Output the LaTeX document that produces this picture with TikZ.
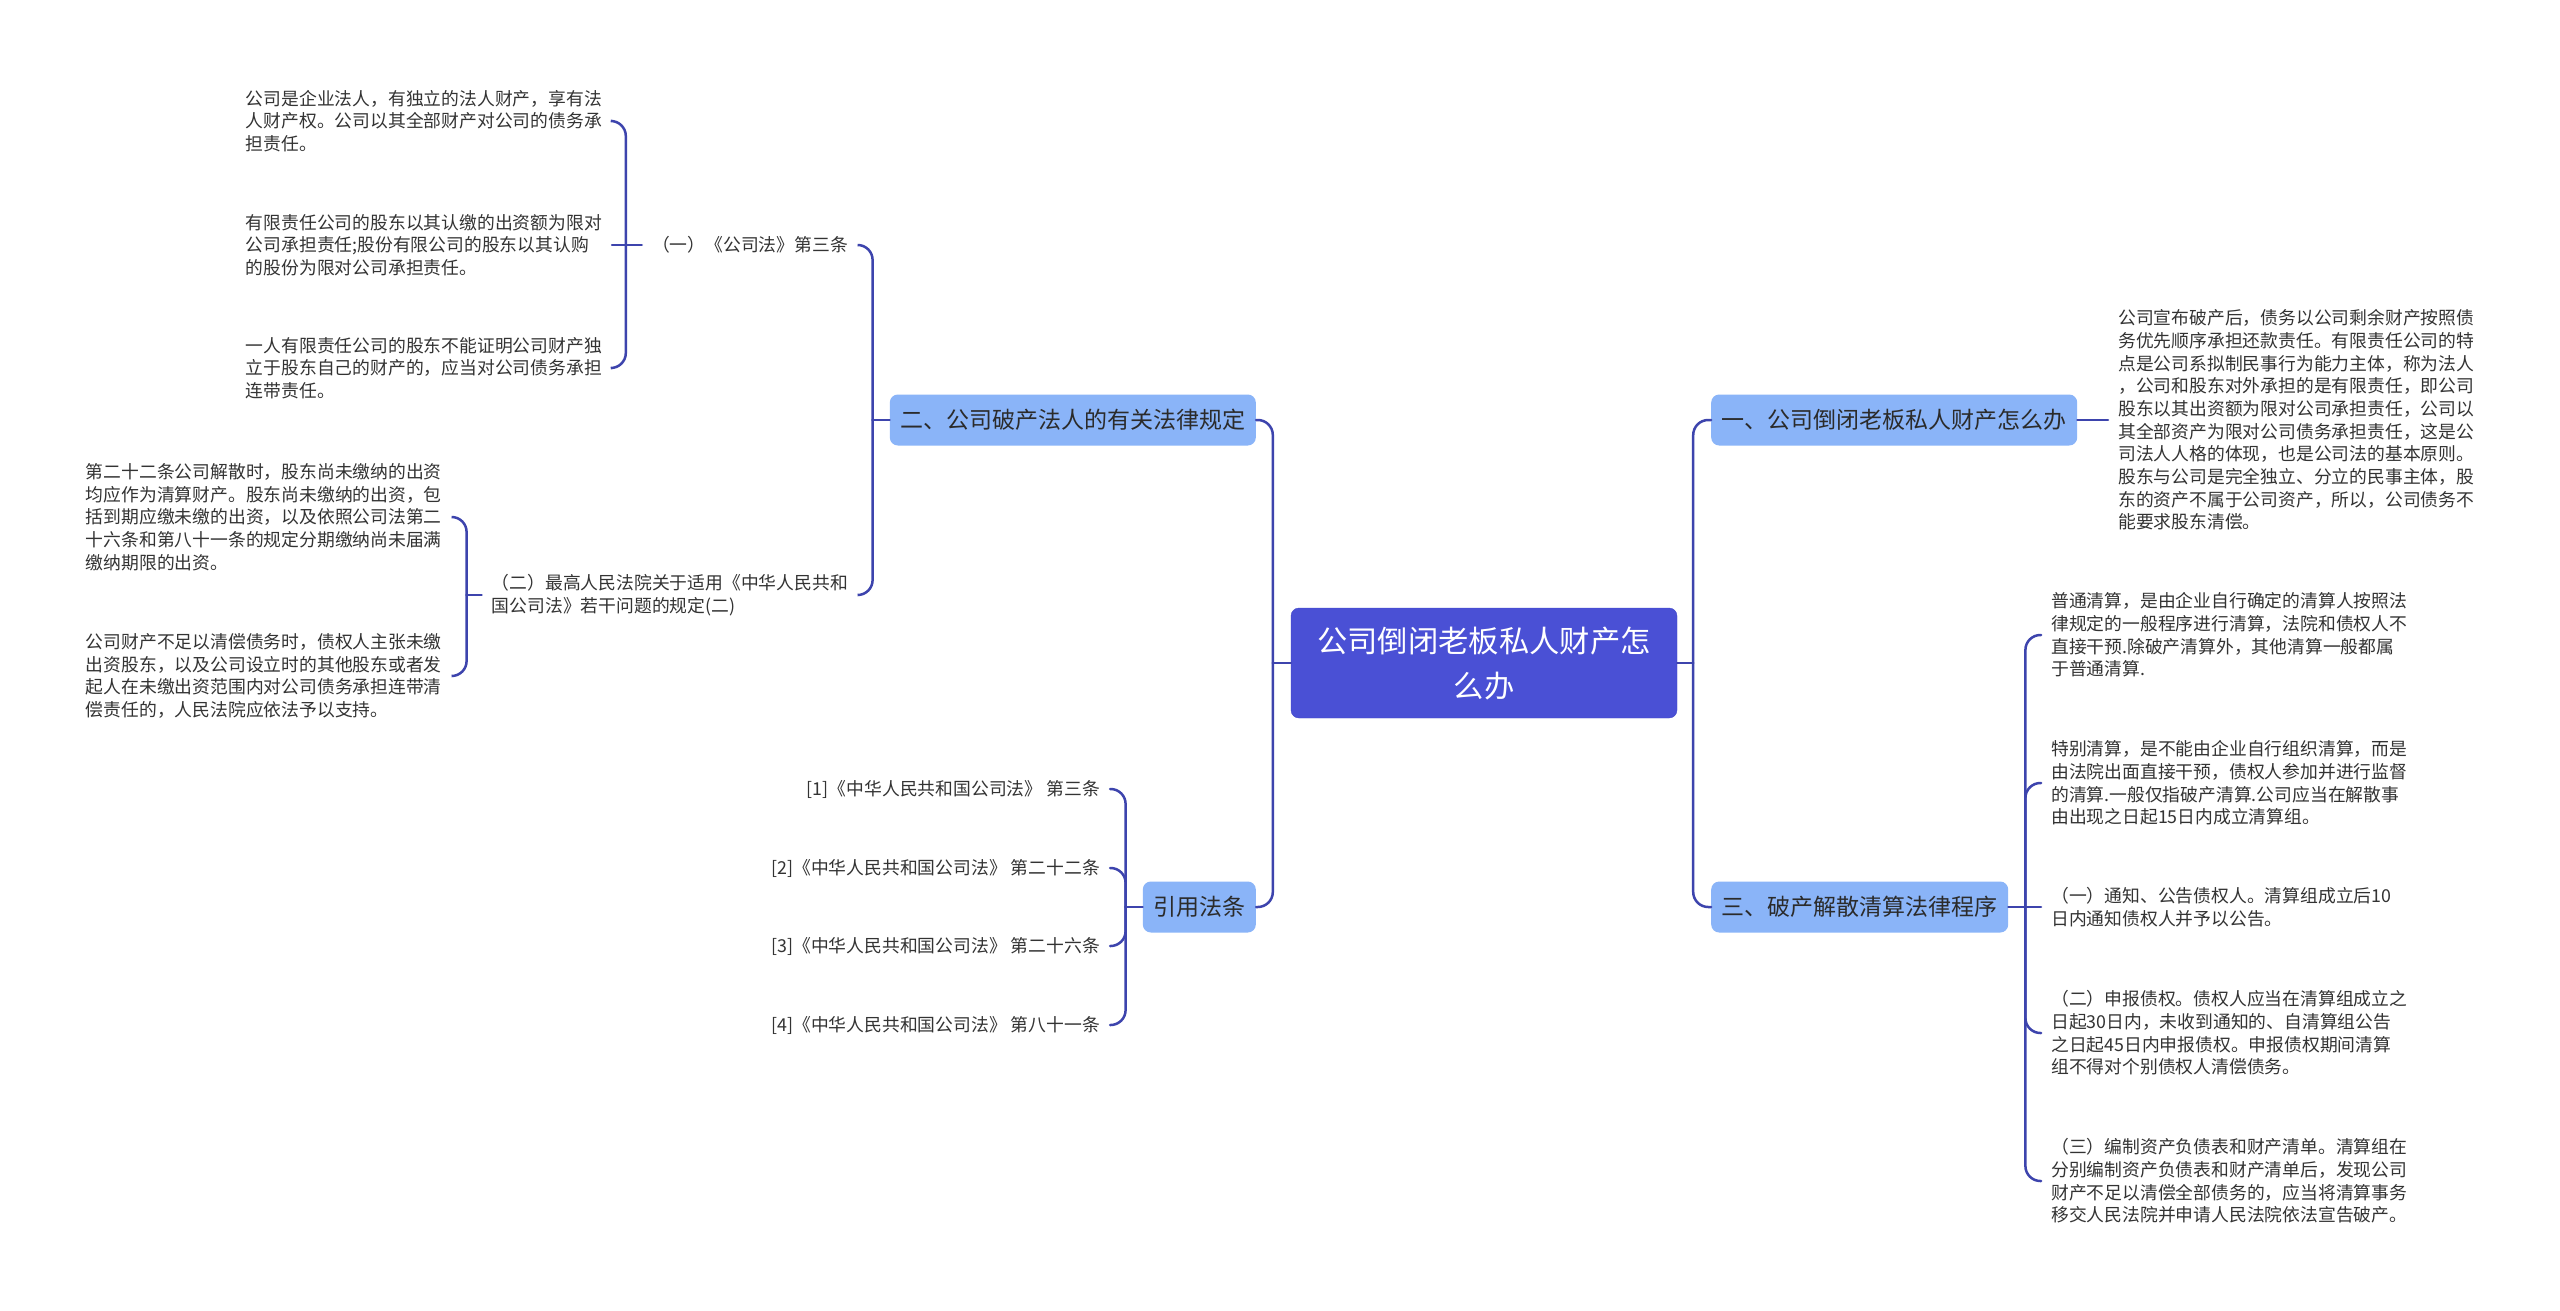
\documentclass[tikz,border=0pt]{standalone}
\usepackage{fontspec}
\setmainfont{Noto Sans CJK SC}
\definecolor{mapIndigo}{HTML}{4A50D5}
\definecolor{mapIndigoEdge}{HTML}{4248C8}
\definecolor{mapSky}{HTML}{8AB4F8}
\definecolor{lineNavy}{HTML}{3D44AD}
\definecolor{textDark}{HTML}{2B2B2B}
\definecolor{textGray}{HTML}{333333}
\newcommand{\leafsize}{\fontsize{17.8}{22.7}\selectfont}
\newcommand{\branchsize}{\fontsize{23}{28}\selectfont}
\newcommand{\rootsize}{\fontsize{30.3}{45}\selectfont}

\begin{document}
\begin{tikzpicture}[x=1pt, y=-1pt,
    root/.style={draw=mapIndigoEdge, fill=mapIndigo, text=white, rounded corners=8pt, font=\rootsize, align=center, minimum width=386pt, minimum height=110pt, inner sep=0pt},
    branch/.style={fill=mapSky, text=textDark, rounded corners=8pt, font=\branchsize, minimum height=51pt, inner xsep=10.5pt, inner ysep=0pt},
    leaf/.style={text=textGray, font=\leafsize, align=left, inner xsep=10pt, inner ysep=0pt},
    link/.style={draw=lineNavy, line width=2.5pt, line cap=round},
    elbow/.style={link, rounded corners=15pt}]
  \fill[white] (0,0) rectangle (2560,1311);
  \useasboundingbox (0,0) rectangle (2560,1311);

  \node[root] (c) at (1484,663) {公司倒闭老板私人财产怎\\么办};
  \node[branch, anchor=east] (b2) at (1256,420) {二、公司破产法人的有关法律规定};
  \node[branch, anchor=east] (cite) at (1256,907) {引用法条};
  \node[branch, anchor=west] (b1) at (1711,420) {一、公司倒闭老板私人财产怎么办};
  \node[branch, anchor=west] (b3) at (1711,907) {三、破产解散清算法律程序};

  \node[leaf, anchor=east] (s1) at (858,245) {（一）《公司法》第三条};
  \node[leaf, anchor=east] (s2) at (858,595) {（二）最高人民法院关于适用《中华人民共和\\国公司法》若干问题的规定(二)};

  \node[leaf, anchor=east] (a1) at (612,121) {公司是企业法人，有独立的法人财产，享有法\\人财产权。公司以其全部财产对公司的债务承\\担责任。};
  \node[leaf, anchor=east] (a2) at (612,245) {有限责任公司的股东以其认缴的出资额为限对\\公司承担责任;股份有限公司的股东以其认购\\的股份为限对公司承担责任。};
  \node[leaf, anchor=east] (a3) at (612,368) {一人有限责任公司的股东不能证明公司财产独\\立于股东自己的财产的，应当对公司债务承担\\连带责任。};
  \node[leaf, anchor=east] (a4) at (452,517) {第二十二条公司解散时，股东尚未缴纳的出资\\均应作为清算财产。股东尚未缴纳的出资，包\\括到期应缴未缴的出资，以及依照公司法第二\\十六条和第八十一条的规定分期缴纳尚未届满\\缴纳期限的出资。};
  \node[leaf, anchor=east] (a5) at (452,676) {公司财产不足以清偿债务时，债权人主张未缴\\出资股东，以及公司设立时的其他股东或者发\\起人在未缴出资范围内对公司债务承担连带清\\偿责任的，人民法院应依法予以支持。};

  \foreach \i/\y/\t in {1/789/第三条, 2/868/第二十二条, 3/946/第二十六条, 4/1025/第八十一条}
    \node[leaf, anchor=east] (r\i) at (1110,\y) {[\i]《中华人民共和国公司法》 \t};

  \node[leaf, anchor=west] (k1) at (2108,420) {公司宣布破产后，债务以公司剩余财产按照债\\务优先顺序承担还款责任。有限责任公司的特\\点是公司系拟制民事行为能力主体，称为法人\\，公司和股东对外承担的是有限责任，即公司\\股东以其出资额为限对公司承担责任，公司以\\其全部资产为限对公司债务承担责任，这是公\\司法人人格的体现，也是公司法的基本原则。\\股东与公司是完全独立、分立的民事主体，股\\东的资产不属于公司资产，所以，公司债务不\\能要求股东清偿。};

  \node[leaf, anchor=west] (t1) at (2041,635) {普通清算，是由企业自行确定的清算人按照法\\律规定的一般程序进行清算，法院和债权人不\\直接干预.除破产清算外，其他清算一般都属\\于普通清算.};
  \node[leaf, anchor=west] (t2) at (2041,783) {特别清算，是不能由企业自行组织清算，而是\\由法院出面直接干预，债权人参加并进行监督\\的清算.一般仅指破产清算.公司应当在解散事\\由出现之日起15日内成立清算组。};
  \node[leaf, anchor=west] (t3) at (2041,907) {（一）通知、公告债权人。清算组成立后10\\日内通知债权人并予以公告。};
  \node[leaf, anchor=west] (t4) at (2041,1033) {（二）申报债权。债权人应当在清算组成立之\\日起30日内，未收到通知的、自清算组公告\\之日起45日内申报债权。申报债权期间清算\\组不得对个别债权人清偿债务。};
  \node[leaf, anchor=west] (t5) at (2041,1181) {（三）编制资产负债表和财产清单。清算组在\\分别编制资产负债表和财产清单后，发现公司\\财产不足以清偿全部债务的，应当将清算事务\\移交人民法院并申请人民法院依法宣告破产。};

  \draw[link] (c.west) -- ++(-18,0) coordinate (cw);
  \foreach \n in {b2,cite}
    \draw[elbow] (cw) |- (\n.east);
  \draw[link] (c.east) -- ++(16,0) coordinate (ce);
  \foreach \n in {b1,b3}
    \draw[elbow] (ce) |- (\n.west);

  \draw[link] (b1.east) -- (k1.west);

  \draw[link] (b2.west) -- ++(-17,0) coordinate (b2w);
  \foreach \n in {s1,s2}
    \draw[elbow] (b2w) |- (\n.east);

  \draw[link] (s1.west) -- ++(-16,0) coordinate (s1w);
  \foreach \n in {a1,a3}
    \draw[elbow] (s1w) |- (\n.east);
  \draw[link] (s1w) -- (a2.east);

  \draw[link] (s2.west) -- ++(-15,0) coordinate (s2w);
  \foreach \n in {a4,a5}
    \draw[elbow] (s2w) |- (\n.east);

  \draw[link] (cite.west) -- ++(-17,0) coordinate (citew);
  \foreach \n in {r1,r2,r3,r4}
    \draw[elbow] (citew) |- (\n.east);

  \draw[link] (b3.east) -- ++(17,0) coordinate (b3e);
  \foreach \n in {t1,t2,t4,t5}
    \draw[elbow] (b3e) |- (\n.west);
  \draw[link] (b3e) -- (t3.west);
\end{tikzpicture}
\end{document}
